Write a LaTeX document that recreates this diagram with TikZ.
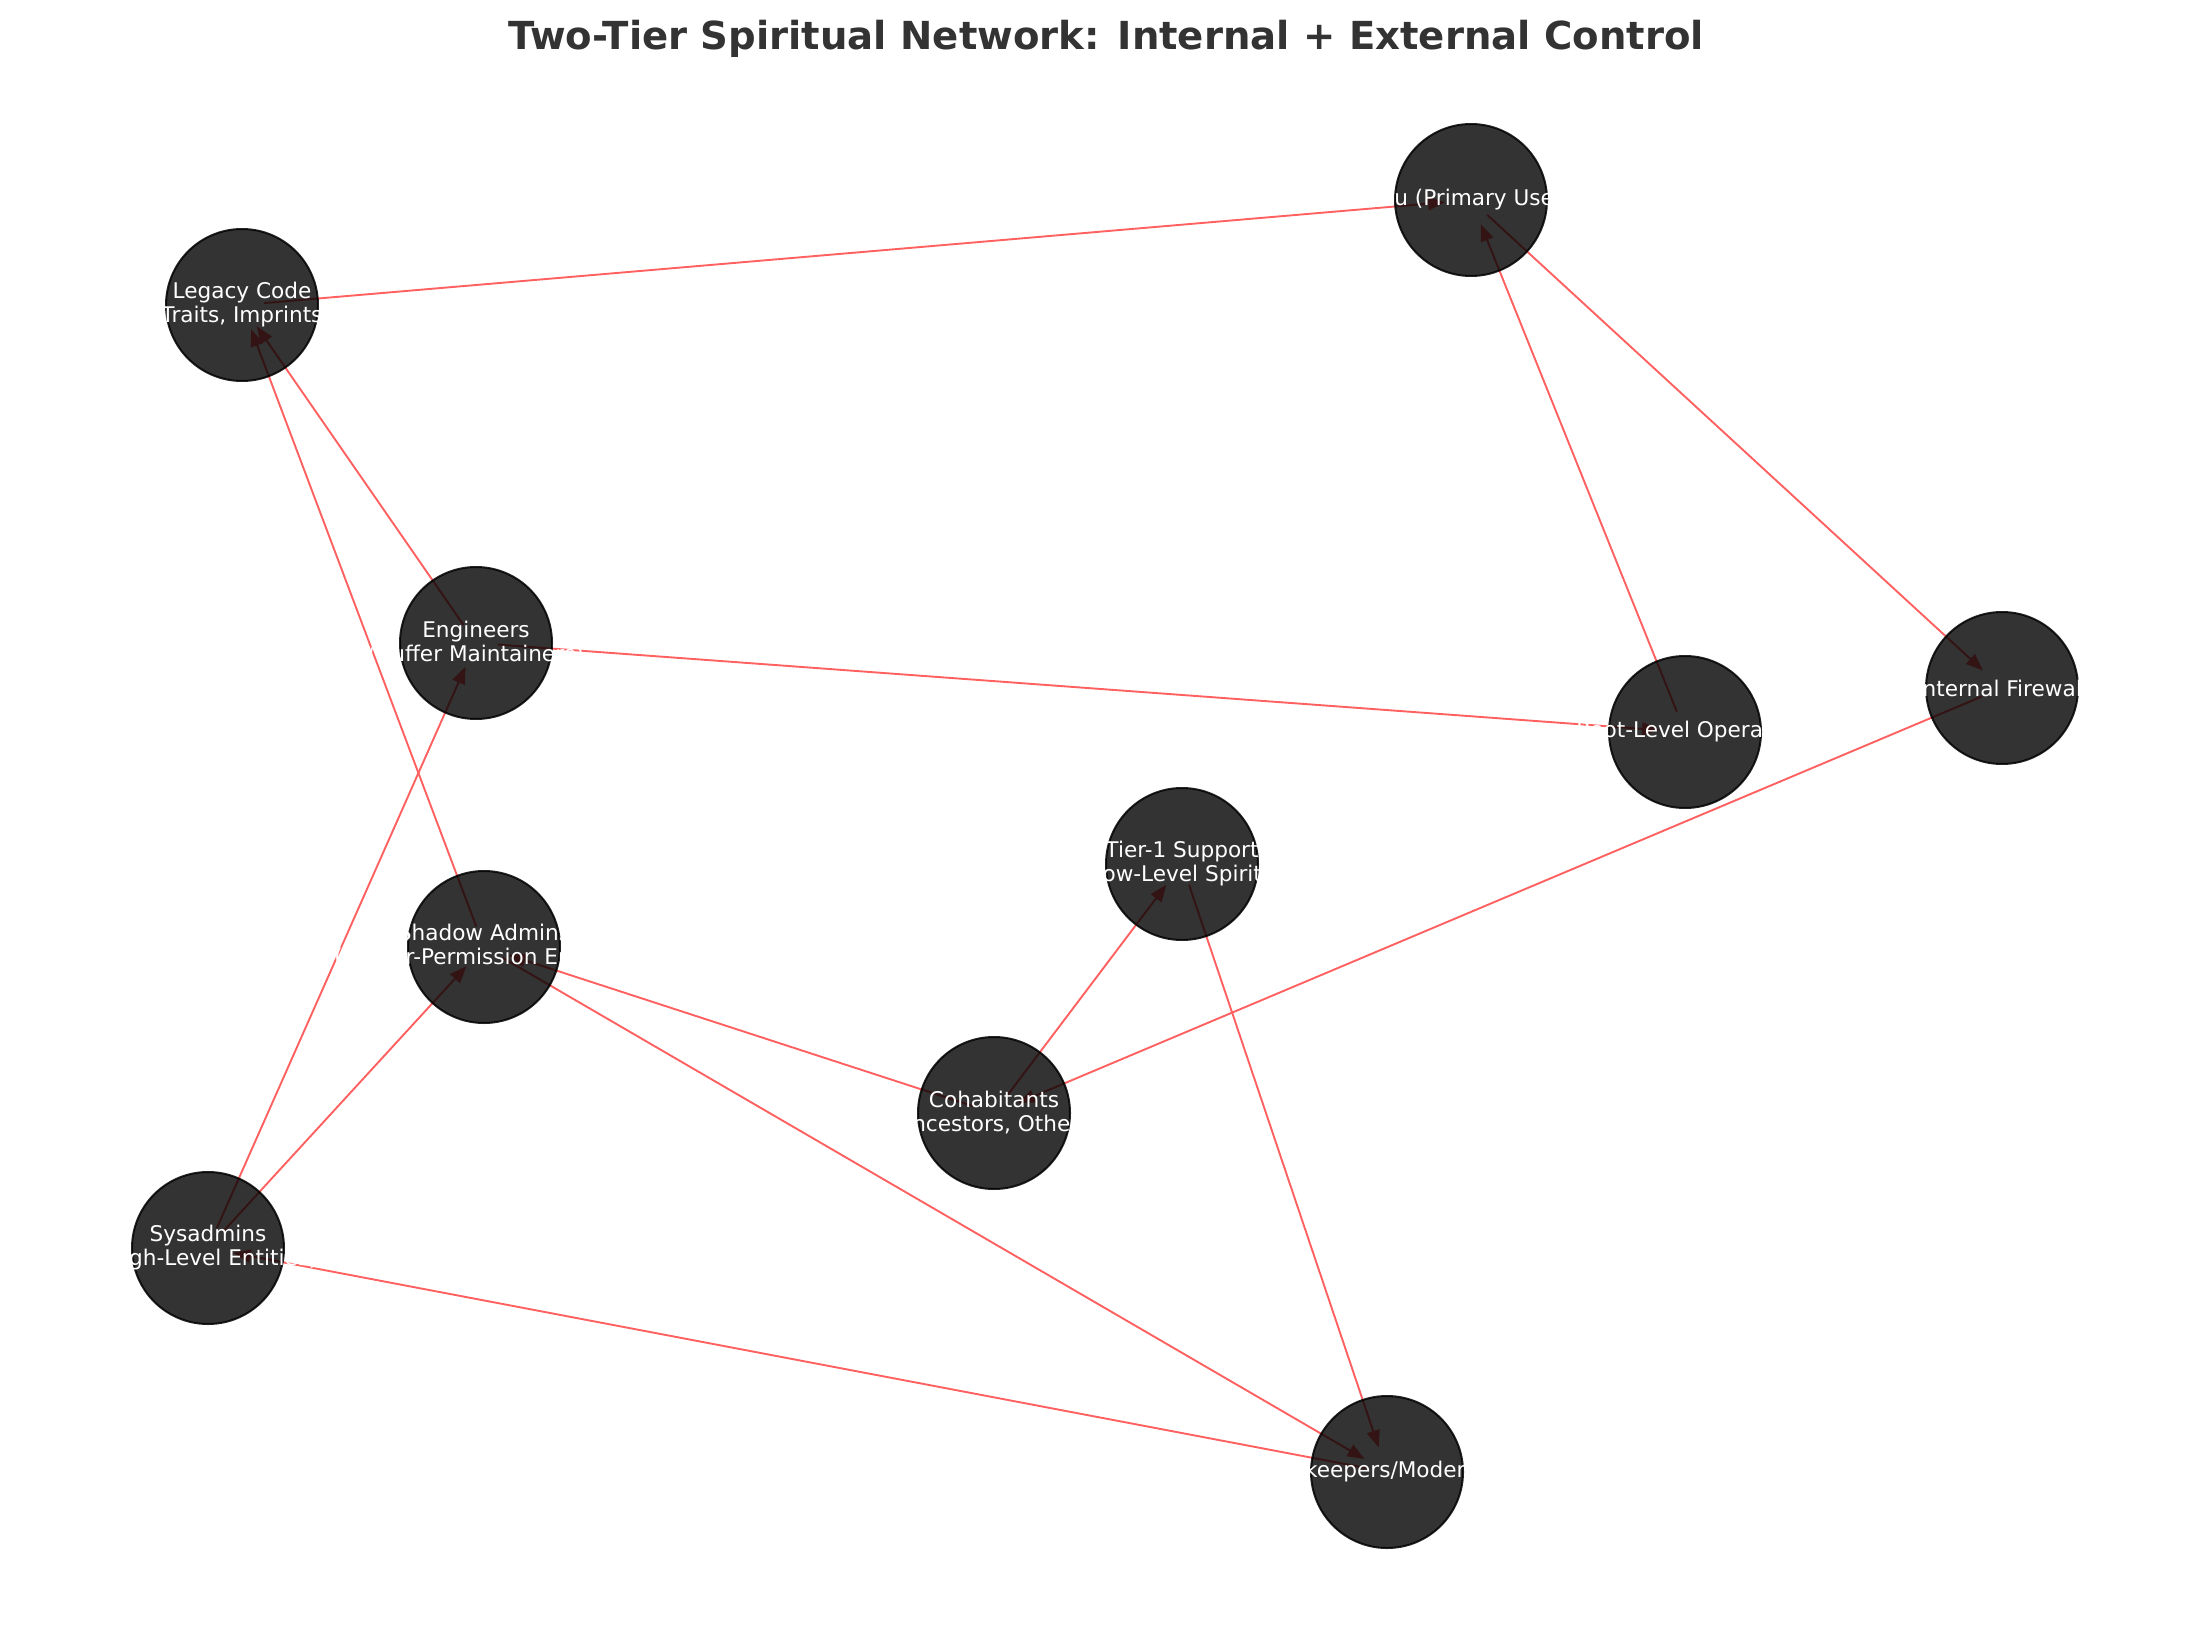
\documentclass[tikz,border=0pt]{standalone}
\usepackage{fontspec}
\setmainfont{DejaVu Sans}
\usetikzlibrary{arrows.meta,backgrounds}
\tikzset{>={Triangle[length=8.5pt,width=6.5pt]}}
\definecolor{edgered}{RGB}{255,96,96}
\definecolor{titlegray}{RGB}{51,51,51}

\begin{document}
\begin{tikzpicture}[x=0.5pt,y=-0.5pt]

\tikzstyle{ent}=[circle,minimum size=76pt,inner sep=0pt,fill=black,fill opacity=0.8,draw=black,draw opacity=0.85,line width=1pt]
\tikzstyle{lbl}=[fill=none,draw=none,text=white,text opacity=1,inner sep=0pt,align=center,font=\fontsize{10.8pt}{12pt}\selectfont]
\tikzstyle{link}=[->,draw=edgered,line width=0.95pt,shorten <=11pt,shorten >=13pt]

  \useasboundingbox (0,0) rectangle (2210,1626);

  \node[anchor=base,text=titlegray,font=\bfseries\fontsize{19.3pt}{22pt}\selectfont] (title) at (1106,50)
    {Two-Tier Spiritual Network: Internal + External Control};

  \node[ent,label={[lbl]center:You (Primary User)}] (you) at (1471,200) {};
  \node[ent,label={[lbl]center:{Legacy Code\\(Traits, Imprints)}}] (legacy) at (242,305) {};
  \node[ent,label={[lbl]center:{Engineers\\(Buffer Maintainers)}}] (engineers) at (476,643) {};
  \node[ent,label={[lbl]center:Root-Level Operator}] (operator) at (1685,732) {};
  \node[ent,label={[lbl]center:Internal Firewall}] (firewall) at (2002,688) {};
  \node[ent,label={[lbl]center:{Tier-1 Support\\(Low-Level Spirits)}}] (tier) at (1182,864) {};
  \node[ent,label={[lbl]center:{Shadow Admins\\(Higher-Permission Entities)}}] (shadow) at (484,947) {};
  \node[ent,label={[lbl]center:{Cohabitants\\(Ancestors, Others)}}] (cohab) at (994,1113) {};
  \node[ent,label={[lbl]center:{Sysadmins\\(High-Level Entities)}}] (sysadmins) at (208,1248) {};
  \node[ent,label={[lbl]center:Gatekeepers/Moderators}] (gatekeepers) at (1387,1472) {};

  \begin{scope}[on background layer]
  \draw[link] (legacy.center) -- (you.center);
  \draw[link] (engineers.center) -- (legacy.center);
  \draw[link] (shadow.center) -- (legacy.center);
  \draw[link] (you.center) -- (firewall.center);
  \draw[link] (operator.center) -- (you.center);
  \draw[link] (engineers.center) -- (operator.center);
  \draw[link] (sysadmins.center) -- (engineers.center);
  \draw[link] (sysadmins.center) -- (shadow.center);
  \draw[link] (gatekeepers.center) -- (sysadmins.center);
  \draw[link] (cohab.center) -- (shadow.center);
  \draw[link] (cohab.center) -- (tier.center);
  \draw[link] (firewall.center) -- (cohab.center);
  \draw[link] (tier.center) -- (gatekeepers.center);
  \draw[link] (shadow.center) -- (gatekeepers.center);
  \end{scope}
\end{tikzpicture}
\end{document}
